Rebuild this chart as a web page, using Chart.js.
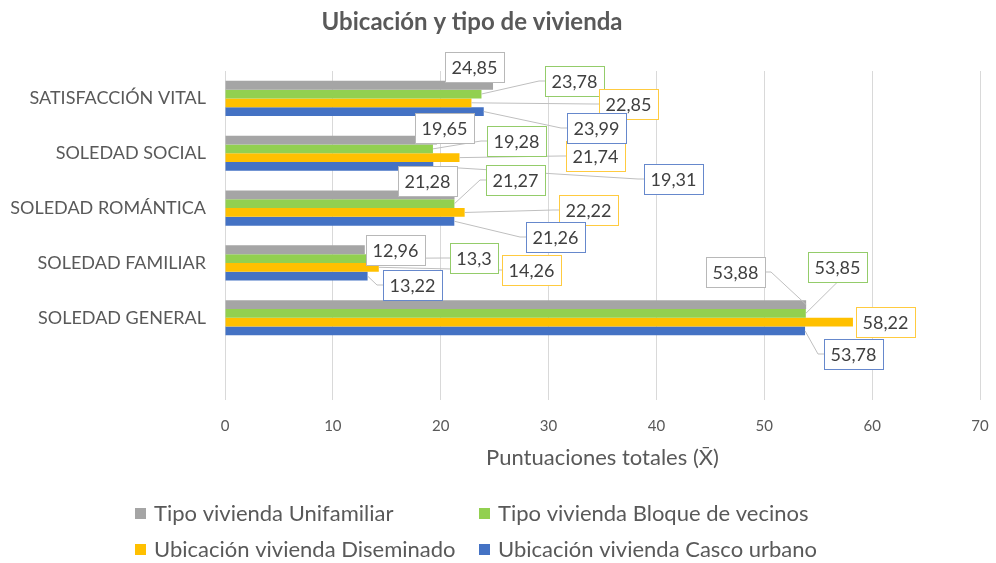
<!DOCTYPE html>
<html><head><meta charset="utf-8">
<script src="https://cdn.jsdelivr.net/npm/chart.js@4"></script>
<style>html,body{margin:0;padding:0;background:#fff}#wrap{width:996px;height:563px}</style>
</head><body><div id="wrap"><canvas id="c" width="996" height="563"></canvas></div>
<script>
// Categories (last slot left empty, as in the original layout)
const categories = ['SATISFACCIÓN VITAL', 'SOLEDAD SOCIAL', 'SOLEDAD ROMÁNTICA', 'SOLEDAD FAMILIAR', 'SOLEDAD GENERAL', ''];
const seriesNames = ['Tipo vivienda Unifamiliar', 'Tipo vivienda Bloque de vecinos', 'Ubicación vivienda Diseminado', 'Ubicación vivienda Casco urbano'];
const unifamiliar   = [24.85, 19.65, 21.28, 12.96, 53.88, null];
const bloqueVecinos = [23.78, 19.28, 21.27, 13.30, 53.85, null];
const diseminado    = [22.85, 21.74, 22.22, 14.26, 58.22, null];
const cascoUrbano   = [23.99, 19.31, 21.26, 13.22, 53.78, null];
const xTicks = [0, 10, 20, 30, 40, 50, 60, 70];

const colors = ['#a5a5a5', '#92d050', '#ffc000', '#4472c4'];
const boxBorders = ['#b8b8b8', '#94cc6a', '#ffcb40', '#6688cc'];

// Callout box centre, relative to the end of each bar [dx, dy]
const calloutOffsets = [
  [[-19, -18], [8, -12], [-27, -14], [31, 0], [-71, -33]],
  [[93, -13], [84, -8], [61, -24], [106, -1], [32, -46]],
  [[157, 1], [136, -2], [124, -2], [153, 3], [33, 0]],
  [[113, 16], [240, 13], [101, 16], [45, 9], [48, 23]]
];

const FONT = 'Lato';
Chart.defaults.font.family = FONT;

const fmt = v => String(v).replace('.', ',');

const calloutPlugin = {
  id: 'callouts',
  afterDatasetsDraw(chart) {
    const ctx = chart.ctx;
    ctx.save();
    ctx.font = '18px ' + FONT;
    const boxes = [];
    chart.data.datasets.forEach((ds, di) => {
      const meta = chart.getDatasetMeta(di);
      meta.data.forEach((bar, i) => {
        const v = ds.data[i];
        if (v == null) return;
        const off = calloutOffsets[di][i];
        const text = fmt(v);
        const w = Math.round(ctx.measureText(text).width + 13), h = 30;
        const l = Math.round(bar.x + off[0] - w / 2), t = Math.round(bar.y + off[1] - h / 2);
        boxes.push({ text, di, px: bar.x, py: bar.y, l, r: l + w, t, b: t + h, cx: l + w / 2, cy: t + h / 2, w, h });
      });
    });
    // leader lines
    ctx.strokeStyle = '#bfbfbf';
    ctx.lineWidth = 1;
    boxes.forEach(bx => {
      const dx = Math.max(bx.l - bx.px, 0, bx.px - bx.r);
      const dy = Math.max(bx.t - bx.py, 0, bx.py - bx.b);
      if (Math.hypot(dx, dy) < 9) return;
      ctx.beginPath();
      if (bx.l > bx.px + 4) {
        ctx.moveTo(bx.l, bx.cy); ctx.lineTo(bx.l - 6, bx.cy); ctx.lineTo(bx.px, bx.py);
      } else if (bx.r < bx.px - 4) {
        ctx.moveTo(bx.r, bx.cy); ctx.lineTo(bx.r + 6, bx.cy); ctx.lineTo(bx.px, bx.py);
      } else if (bx.b < bx.py) {
        ctx.moveTo(bx.cx, bx.b); ctx.lineTo(bx.px, bx.py);
      } else {
        ctx.moveTo(bx.cx, bx.t); ctx.lineTo(bx.px, bx.py);
      }
      ctx.stroke();
    });
    // boxes and text
    ctx.textAlign = 'center';
    ctx.textBaseline = 'middle';
    boxes.forEach(bx => {
      ctx.fillStyle = '#ffffff';
      ctx.fillRect(bx.l, bx.t, bx.w, bx.h);
      ctx.strokeStyle = boxBorders[bx.di];
      ctx.lineWidth = 1;
      ctx.strokeRect(bx.l + 0.5, bx.t + 0.5, bx.w, bx.h);
      ctx.fillStyle = '#404040';
      ctx.fillText(bx.text, bx.cx, bx.cy + 1);
    });
    ctx.restore();
  },
  afterDraw(chart) {
    const ctx = chart.ctx;
    ctx.save();
    // chart title
    ctx.fillStyle = '#595959';
    ctx.font = 'bold 24px ' + FONT;
    ctx.textAlign = 'center';
    ctx.textBaseline = 'middle';
    ctx.fillText('Ubicación y tipo de vivienda', 472, 22);
    // legend in two columns
    ctx.font = '22px ' + FONT;
    ctx.textAlign = 'left';
    const cols = [135, 479], rows = [514, 550];
    seriesNames.forEach((name, i) => {
      const x = cols[i % 2], y = rows[Math.floor(i / 2)];
      ctx.fillStyle = colors[i];
      ctx.fillRect(x, y - 6, 11, 11);
      ctx.fillStyle = '#595959';
      ctx.fillText(name, x + 19, y);
    });
    ctx.restore();
  }
};

const series = [unifamiliar, bloqueVecinos, diseminado, cascoUrbano];

new Chart(document.getElementById('c'), {
  type: 'bar',
  data: {
    labels: categories,
    datasets: series.map((d, i) => ({
      label: seriesNames[i],
      data: d,
      backgroundColor: colors[i],
      borderWidth: 0,
      categoryPercentage: 0.64,
      barPercentage: 1
    }))
  },
  options: {
    indexAxis: 'y',
    responsive: false,
    animation: false,
    devicePixelRatio: 1,
    layout: { padding: { top: 71, left: 0, right: 16, bottom: 83 } },
    plugins: { legend: { display: false }, title: { display: false }, tooltip: { enabled: false } },
    scales: {
      x: {
        min: 0, max: 70,
        afterBuildTicks: s => { s.ticks = xTicks.map(v => ({ value: v })); },
        ticks: { color: '#595959', font: { size: 15 }, padding: 17 },
        grid: { color: '#d9d9d9', drawTicks: false },
        border: { display: false },
        title: { display: true, text: 'Puntuaciones totales (X̄)', color: '#595959', font: { size: 22 }, padding: { top: 0, bottom: 9 } },
        afterFit: s => { s.height = 80; s.paddingLeft = 0; s.paddingRight = 0; }
      },
      y: {
        ticks: { color: '#595959', font: { size: 18 }, padding: 19, autoSkip: false },
        grid: { display: false, drawTicks: false },
        border: { display: false },
        afterFit: s => { s.width = 225; s.paddingTop = 0; s.paddingBottom = 0; }
      }
    }
  },
  plugins: [calloutPlugin]
});
</script>
</body></html>
